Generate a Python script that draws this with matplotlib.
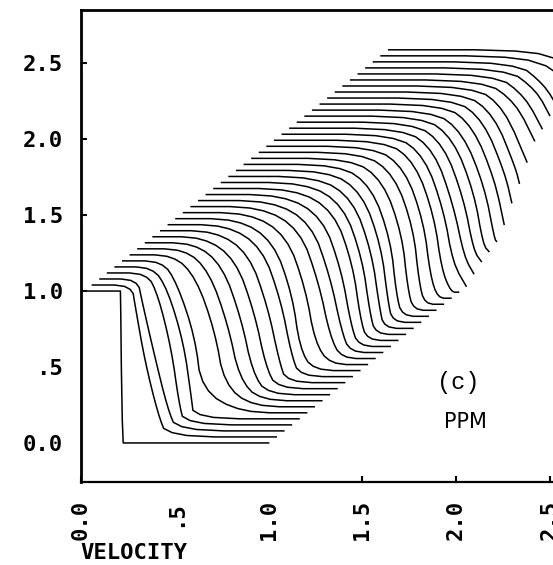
import numpy as np
import matplotlib
matplotlib.use("Agg")
import matplotlib.pyplot as plt

# Velocity profiles, one per time level, in each profile's own coordinates
# (before the waterfall shift).  Each profile: v = 1 up to shoulder_x,
# then falls through 0.85, 0.5, 0.15 and reaches 0 at foot_x.
shoulder_x = [0.21, 0.23, 0.22, 0.23, 0.22, 0.23, 0.25, 0.27, 0.28, 0.29,
              0.31, 0.33, 0.35, 0.37, 0.39, 0.41, 0.43, 0.45, 0.47, 0.49,
              0.51, 0.53, 0.55, 0.57, 0.59, 0.61, 0.62, 0.63, 0.64, 0.65,
              0.66, 0.68, 0.69, 0.70, 0.72, 0.73, 0.75, 0.77, 0.78, 0.82, 0.84]
upper_x = [0.212, 0.25, 0.245, 0.29, 0.30, 0.31, 0.37, 0.40, 0.43, 0.46,
           0.49, 0.52, 0.54, 0.57, 0.60, 0.62, 0.64, 0.66, 0.67, 0.68,
           0.69, 0.70, 0.72, 0.74, 0.755, 0.77, 0.78, 0.79, 0.80, 0.81,
           0.82, 0.835, 0.85, 0.865, 0.88, 0.90, 0.91, 0.93, 0.93, 1.00, 1.02]
mid_x = [0.215, 0.30, 0.31, 0.36, 0.385, 0.405, 0.47, 0.50, 0.53, 0.56,
         0.59, 0.62, 0.64, 0.67, 0.70, 0.72, 0.74, 0.76, 0.77, 0.78,
         0.79, 0.80, 0.82, 0.84, 0.855, 0.87, 0.88, 0.89, 0.905, 0.92,
         0.935, 0.95, 0.965, 0.98, 1.00, 1.04, 1.06, 1.08, 1.10, 1.12, 1.14]
lower_x = [0.22, 0.37, 0.38, 0.40, 0.425, 0.44, 0.52, 0.56, 0.59, 0.62,
           0.65, 0.675, 0.68, 0.72, 0.76, 0.78, 0.79, 0.80, 0.81, 0.82,
           0.825, 0.83, 0.85, 0.87, 0.89, 0.91, 0.93, 0.95, 0.96, 0.97,
           0.99, 1.01, 1.03, 1.05, 1.07, 1.10, 1.12, 1.14, 1.16, 1.18, 1.20]
foot_x = [0.225, 0.418, 0.43, 0.43, 0.44, 0.65, 0.67, 0.67, 0.67, 0.68,
          0.69, 0.72, 0.75, 0.80, 0.82, 0.825, 0.83, 0.835, 0.84, 0.845,
          0.85, 0.86, 0.88, 0.90, 0.93, 0.96, 1.00, 1.02, 1.05, 1.08,
          1.10, 1.13, 1.15, 1.17, 1.20, 1.22, 1.25, 1.27, 1.30, 1.32, 1.35]
levels = [1.0, 0.85, 0.5, 0.15, 0.0]

x_step = 0.0405     # shift of each later profile
v_step = 0.0397
x_end = 1.0

xticks = [0.0, 0.5, 1.0, 1.5, 2.0, 2.5]
xtick_labels = ["0.0", ".5", "1.0", "1.5", "2.0", "2.5"]
yticks = [0.0, 0.5, 1.0, 1.5, 2.0, 2.5]
ytick_labels = ["0.0", ".5", "1.0", "1.5", "2.0", "2.5"]


def chaikin(x, y, n=2):
    """Rounds the corners of a polyline, keeps both end points."""
    pts = np.column_stack([x, y])
    for _ in range(n):
        q = 0.75 * pts[:-1] + 0.25 * pts[1:]
        r = 0.25 * pts[:-1] + 0.75 * pts[1:]
        mid = np.empty((2 * len(q), 2))
        mid[0::2] = q
        mid[1::2] = r
        pts = np.vstack([pts[:1], mid[1:-1], pts[-1:]])
    return pts[:, 0], pts[:, 1]


fig = plt.figure(figsize=(5.53, 5.65), dpi=100)
ax = fig.add_axes([0.1465, 0.1469, 0.8535, 0.8354])

for i in range(len(mid_x)):
    xs = [0.0 if i == 0 else 0.02, shoulder_x[i], upper_x[i], mid_x[i],
          lower_x[i], foot_x[i]]
    vs = [1.0] + levels
    if foot_x[i] < x_end:
        xs.append(x_end)
        vs.append(0.0)
    xs = np.array(xs)
    vs = np.array(vs)
    v_end = np.interp(x_end, xs, vs)
    keep = xs < x_end
    xs = np.append(xs[keep], x_end)
    vs = np.append(vs[keep], v_end)
    if i > 0:
        xs, vs = chaikin(xs, vs)

    X = xs + i * x_step
    V = vs + i * v_step
    # hidden lines: earlier (front) profiles mask the later ones
    z = 2.0 - 0.04 * i
    ax.fill_between(X, V, -1, color="white", lw=0, zorder=z - 0.02)
    ax.plot(X, V, color="black", lw=1.1, zorder=z)

ax.set_xlim(0, 2.516)
ax.set_ylim(-0.257, 2.85)

ax.spines["right"].set_visible(False)
ax.spines["left"].set_linewidth(2.0)
ax.spines["top"].set_linewidth(2.0)
ax.spines["bottom"].set_linewidth(1.6)

ax.set_xticks(xticks)
ax.set_xticklabels(xtick_labels, rotation=90)
ax.set_yticks(yticks)
ax.set_yticklabels(ytick_labels)
ax.tick_params(direction="in", length=4, width=1.5, pad=13, labelsize=16)
ax.tick_params(axis="y", right=False)
for lab in ax.get_xticklabels() + ax.get_yticklabels():
    lab.set_family("DejaVu Sans Mono")
    lab.set_weight("bold")

ax.text(2.01, 0.395, "(c)", family="Liberation Mono", fontsize=17,
        ha="center", va="center", zorder=5)
ax.text(2.05, 0.138, "PPM", family="DejaVu Sans", fontsize=15,
        ha="center", va="center", zorder=5)

fig.text(80 / 553, 2 / 565, "VELOCITY", family="DejaVu Sans Mono",
         weight="bold", fontsize=16, ha="left", va="bottom")

fig.savefig("out.png", dpi=100)
